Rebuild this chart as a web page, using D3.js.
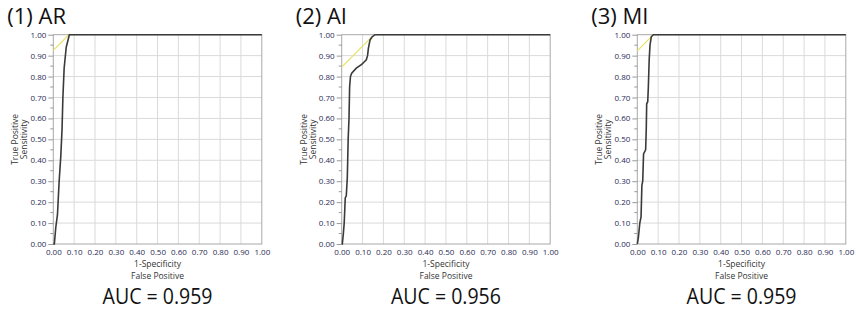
<!DOCTYPE html>
<html>
<head>
<meta charset="utf-8">
<script src="https://cdn.jsdelivr.net/npm/d3@7"></script>
<style>
  body { margin: 0; background: #fff; }
  .tick-label { font-family: "Open Sans", "Noto Sans", sans-serif; font-size: 8px; fill: #2b2b55; }
  .axis-title { font-family: "Open Sans", "Noto Sans", sans-serif; font-size: 8.5px; fill: #333; }
  .panel-title { font-family: "Open Sans", "Noto Sans", sans-serif; font-size: 22px; fill: #111; }
  .auc { font-family: "Open Sans", "Noto Sans", sans-serif; font-size: 22px; fill: #111; }
</style>
</head>
<body>
<svg id="chart"></svg>
<script>
const titles = ['(1) AR', '(2) AI', '(3) MI']
const aucLabels = ['AUC = 0.959', 'AUC = 0.956', 'AUC = 0.959']
const tickValues = [0, 0.1, 0.2, 0.3, 0.4, 0.5, 0.6, 0.7, 0.8, 0.9, 1.0]
const minorTicks = [0.05, 0.15, 0.25, 0.35, 0.45, 0.55, 0.65, 0.75, 0.85, 0.95]

// ROC curves, [1-specificity, sensitivity]
const rocAR = [[0, 0], [0.005, 0], [0.012, 0.08], [0.02, 0.14], [0.028, 0.3], [0.036, 0.42],
    [0.042, 0.55], [0.046, 0.7], [0.052, 0.84], [0.062, 0.94], [0.077, 1], [1, 1]]
const rocAI = [[0, 0], [0.003, 0], [0.008, 0.05], [0.012, 0.1], [0.017, 0.22], [0.022, 0.23],
    [0.027, 0.32], [0.031, 0.5], [0.035, 0.6], [0.038, 0.75], [0.042, 0.8], [0.048, 0.816],
    [0.07, 0.84], [0.096, 0.858], [0.11, 0.872], [0.118, 0.88], [0.124, 0.9], [0.128, 0.935],
    [0.136, 0.975], [0.146, 0.99], [0.16, 1], [1, 1]]
const rocMI = [[0, 0], [0.005, 0.03], [0.012, 0.1], [0.018, 0.13], [0.022, 0.28], [0.026, 0.3],
    [0.03, 0.43], [0.04, 0.45], [0.043, 0.55], [0.045, 0.67], [0.05, 0.68], [0.053, 0.75],
    [0.057, 0.88], [0.061, 0.95], [0.067, 0.99], [0.077, 1], [1, 1]]
const curves = [rocAR, rocAI, rocMI]

// yellow tangent lines
const tangentAR = [[0, 0.925], [0.075, 1]]
const tangentAI = [[0, 0.845], [0.142, 0.987]]
const tangentMI = [[0, 0.923], [0.077, 1]]
const tangents = [tangentAR, tangentAI, tangentMI]

const W = 856, H = 324
const svg = d3.select('#chart').attr('width', W).attr('height', H)

const panelLefts = [53.3, 341.7, 637.3]
const plotW = 208.5, plotH = 209.3, plotTop = 34.7

panelLefts.forEach((left, i) => {
    let g = svg.append('g').attr('transform', `translate(${left},${plotTop})`)

    let x = d3.scaleLinear().domain([0, 1]).range([0, plotW])
    let y = d3.scaleLinear().domain([0, 1]).range([plotH, 0])

    //grid
    g.selectAll('.vgrid').data(tickValues.slice(1, -1)).join('line')
        .attr('x1', d => x(d)).attr('x2', d => x(d))
        .attr('y1', 0).attr('y2', plotH)
        .attr('stroke', '#dadada').attr('stroke-width', 1)
    g.selectAll('.hgrid').data(tickValues.slice(1, -1)).join('line')
        .attr('y1', d => y(d)).attr('y2', d => y(d))
        .attr('x1', 0).attr('x2', plotW)
        .attr('stroke', '#dadada').attr('stroke-width', 1)

    g.append('rect')
        .attr('width', plotW).attr('height', plotH)
        .attr('fill', 'none').attr('stroke', '#a8a8a8')

    //axes
    let yAxis = d3.axisLeft(y).tickValues(tickValues).tickSize(5).tickPadding(2)
        .tickFormat(d3.format('.2f'))
    let xAxis = d3.axisBottom(x).tickValues(tickValues).tickSize(0).tickPadding(5)
        .tickFormat(d3.format('.2f'))

    let yG = g.append('g').call(yAxis)
    yG.select('.domain').remove()
    yG.selectAll('line').attr('stroke', '#999')
    yG.selectAll('text').attr('class', 'tick-label').attr('fill', null)

    g.append('g').selectAll('line').data(minorTicks).join('line')
        .attr('x1', -3).attr('x2', 0)
        .attr('y1', d => y(d)).attr('y2', d => y(d))
        .attr('stroke', '#999')

    let xG = g.append('g').attr('transform', `translate(0,${plotH})`).call(xAxis)
    xG.select('.domain').remove()
    xG.selectAll('text').attr('class', 'tick-label').attr('fill', null)

    //axis titles
    g.append('text').attr('class', 'axis-title')
        .attr('x', plotW / 2).attr('y', plotH + 23)
        .attr('text-anchor', 'middle').text('1-Specificity')
    g.append('text').attr('class', 'axis-title')
        .attr('x', plotW / 2).attr('y', plotH + 35)
        .attr('text-anchor', 'middle').text('False Positive')
    g.append('text').attr('class', 'axis-title')
        .attr('transform', `translate(-35,${plotH / 2}) rotate(-90)`)
        .attr('text-anchor', 'middle').text('True Positive')
    g.append('text').attr('class', 'axis-title')
        .attr('transform', `translate(-26,${plotH / 2}) rotate(-90)`)
        .attr('text-anchor', 'middle').text('Sensitivity')

    let line = d3.line().x(d => x(d[0])).y(d => y(d[1]))

    g.append('path').datum(tangents[i])
        .attr('d', line)
        .attr('fill', 'none').attr('stroke', '#e8e060').attr('stroke-width', 1.2)

    g.append('path').datum(curves[i])
        .attr('d', line)
        .attr('fill', 'none').attr('stroke', '#3a3a3a').attr('stroke-width', 1.6)

    //titles
    svg.append('text').attr('class', 'panel-title')
        .attr('x', left - 46).attr('y', 24)
        .text(titles[i])
    svg.append('text').attr('class', 'auc')
        .attr('x', left + plotW / 2).attr('y', 304)
        .attr('text-anchor', 'middle')
        .attr('textLength', 110).attr('lengthAdjust', 'spacingAndGlyphs')
        .text(aucLabels[i])
})
</script>
</body>
</html>
